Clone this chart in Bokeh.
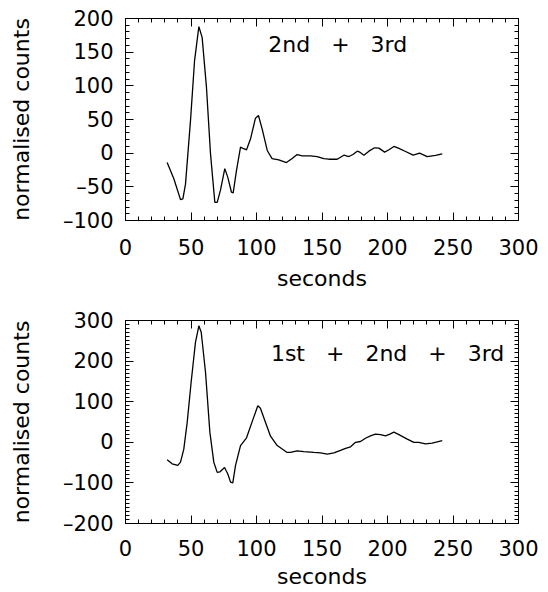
from bokeh.plotting import figure
from bokeh.models import Range1d, FixedTicker, LinearAxis
from bokeh.layouts import column
from bokeh.embed import file_html
from bokeh.resources import INLINE
from bokeh.core.properties import value

# ---- data ----
t_top = [31.8, 36.9, 42.0, 43.8, 45.8, 49.6, 52.7, 56.0, 58.5, 61.8, 64.9, 68.2, 70.0,
         72.5, 75.8, 78.1, 80.9, 82.2, 84.7, 87.8, 89.8, 92.4, 95.4, 99.2, 101.5, 104.3,
         108.2, 111.9, 117.0, 122.9, 127.2, 131.0, 134.9, 141.2, 146.3, 151.4, 155.2,
         161.6, 166.7, 170.5, 173.6, 176.9, 178.9, 182.0, 185.8, 190.1, 193.4, 197.8,
         201.1, 204.9, 208.7, 213.8, 219.6, 224.5, 230.3, 236.7, 241.8]
c_top = [-14, -38, -69, -68, -46, 48, 137, 188, 172, 98, -1, -73, -73,
         -55, -23, -36, -58, -59, -26, 9, 7, 5, 21, 52, 56, 36,
         4, -8, -10, -14, -8, -2, -4, -4, -5, -8, -9,
         -9, -3, -5, -2, 3, 1.5, -3, 3, 8, 7.5, 1.5,
         5, 10, 7, 2.5, -3, 0, -5, -3.4, -1]

t_bot = [31.8, 35.6, 39.9, 42.0, 44.5, 47.1, 50.1, 53.4, 56.0, 57.8, 61.1, 64.4, 67.4,
         70.0, 72.0, 75.6, 78.1, 80.2, 81.9, 84.0, 87.8, 92.4, 96.7, 101.0, 103.0,
         106.9, 110.7, 115.8, 123.4, 126.0, 131.0, 136.1, 143.8, 148.9, 154.0, 159.1,
         164.1, 168.0, 171.8, 175.6, 179.4, 183.2, 187.0, 190.8, 194.7, 198.5, 201.8,
         204.9, 208.7, 215.1, 220.1, 223.9, 229.0, 234.1, 241.8]
c_bot = [-43, -53, -57, -49, -17, 49, 148, 246, 287, 271, 172, 25, -49,
         -74, -73, -62, -78, -98, -100, -57, -8, 11, 51, 90, 84,
         49, 15, -8, -25, -25, -21, -23, -25, -26, -29, -26,
         -20, -15, -11, 0, 2, 10, 16, 20, 19, 16, 20,
         25, 19, 8, 0, 0, -4, -2, 4]

x_ticks = [0, 50, 100, 150, 200, 250, 300]
x_labels = ["0", "50", "100", "150", "200", "250", "300"]
top_yticks = [-100, -50, 0, 50, 100, 150, 200]
top_ylabels = ["\u2013100", "\u201350", "0", "50", "100", "150", "200"]
bot_yticks = [-200, -100, 0, 100, 200, 300]
bot_ylabels = ["\u2013200", "\u2013100", "0", "100", "200", "300"]

top_text = "2nd\u00a0\u00a0\u00a0+\u00a0\u00a0\u00a03rd"
bot_text = "1st\u00a0\u00a0\u00a0+\u00a0\u00a0\u00a02nd\u00a0\u00a0\u00a0+\u00a0\u00a0\u00a03rd"
top_text_pos = (109, 161)
bot_text_pos = (111, 218)

FONT = "DejaVu Sans"


def style_axis(ax, ticks, minor, labels=None, show=True):
    ax.ticker = FixedTicker(ticks=ticks, minor_ticks=minor)
    ax.axis_line_color = "black"
    ax.axis_line_width = 1
    ax.major_tick_line_color = "black"
    ax.minor_tick_line_color = "black"
    ax.major_tick_in = 8
    ax.major_tick_out = 0
    ax.minor_tick_in = 4
    ax.minor_tick_out = 0
    ax.major_label_text_font = FONT
    ax.axis_label_text_font = FONT
    ax.axis_label_text_font_style = "normal"
    ax.axis_label_text_color = "black"
    ax.major_label_text_color = "black"
    if show:
        ax.major_label_text_font_size = "21px"
        ax.axis_label_text_font_size = "22px"
        if labels is not None:
            ax.major_label_overrides = {t: l for t, l in zip(ticks, labels)}
    else:
        ax.major_label_text_font_size = "0px"
        ax.major_label_standoff = 0
        ax.major_label_overrides = {t: "" for t in ticks}


def panel(t, c, yr, yticks, ylabels, text, tpos, height, btop, bbot, xstand, xlabstand):
    p = figure(width=540, height=height, x_range=Range1d(0, 300), y_range=Range1d(*yr),
               output_backend="svg", toolbar_location=None,
               min_border_left=125, min_border_right=22,
               min_border_top=btop, min_border_bottom=bbot)
    p.grid.visible = False
    p.outline_line_color = "black"
    p.background_fill_color = "white"
    xminor = list(range(0, 301, 10))
    yminor = list(range(yr[0], yr[1] + 1, 10))
    style_axis(p.xaxis[0], x_ticks, xminor, x_labels)
    style_axis(p.yaxis[0], yticks, yminor, ylabels)
    p.xaxis[0].axis_label = "seconds"
    p.xaxis[0].major_label_standoff = xstand
    p.xaxis[0].axis_label_standoff = xlabstand
    p.yaxis[0].axis_label = "normalised counts"
    p.yaxis[0].major_label_standoff = 12
    p.yaxis[0].axis_label_standoff = 26
    top = LinearAxis()
    right = LinearAxis()
    style_axis(top, x_ticks, xminor, show=False)
    style_axis(right, yticks, yminor, show=False)
    p.add_layout(top, "above")
    p.add_layout(right, "right")
    p.line(t, c, line_color="black", line_width=1.3)
    p.text(x=[tpos[0]], y=[tpos[1]], text=[text], text_font=value(FONT),
           text_font_size="22px", text_align="left", text_baseline="middle",
           text_color="black")
    return p


p1 = panel(t_top, c_top, (-100, 200), top_yticks, top_ylabels, top_text, top_text_pos,
           300, 18, 80, 18, 8)
p2 = panel(t_bot, c_bot, (-200, 300), bot_yticks, bot_ylabels, bot_text, bot_text_pos,
           292, 20, 69, 16, 5)

layout = column(p1, p2, spacing=0)
open("out.html", "w").write(file_html(layout, INLINE))
